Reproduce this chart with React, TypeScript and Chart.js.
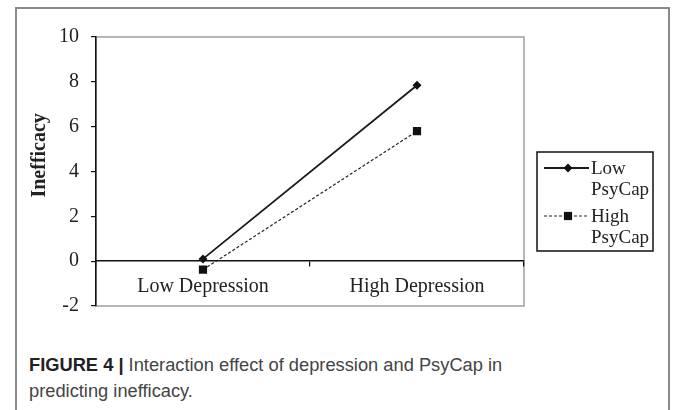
import React, { useEffect, useRef } from "react";
import { Chart, registerables } from "chart.js";
Chart.register(...registerables);

const categories = ["Low Depression", "High Depression"];
const lowPsyCap = [0.1, 7.85];
const highPsyCap = [-0.38, 5.8];
const yMin = -2;
const yMax = 10;
const yStep = 2;
const legendLines = [
  ["Low", "PsyCap"],
  ["High", "PsyCap"],
];
const yTitle = "Inefficacy";

const SERIF = "'Liberation Serif', 'Times New Roman', serif";

const areaFrame = {
  id: "areaFrame",
  beforeDraw(chart: any) {
    const { ctx, chartArea: a } = chart;
    ctx.save();
    ctx.strokeStyle = "#a0a0a0";
    ctx.lineWidth = 1.5;
    ctx.strokeRect(a.left, a.top, a.right - a.left, a.bottom - a.top);
    ctx.restore();
  },
};

const yTitlePlugin = {
  id: "yTitlePlugin",
  afterDraw(chart: any) {
    const { ctx, chartArea: a } = chart;
    ctx.save();
    ctx.translate(40, a.top + (a.bottom - a.top) * 0.44);
    ctx.rotate(-Math.PI / 2);
    ctx.font = `bold 20px ${SERIF}`;
    ctx.fillStyle = "#222";
    ctx.textAlign = "center";
    ctx.textBaseline = "middle";
    ctx.fillText(yTitle, 0, 0);
    ctx.restore();
  },
};

const sideLegend = {
  id: "sideLegend",
  afterDraw(chart: any) {
    const { ctx, chartArea: a } = chart;
    const x0 = a.right + 13;
    const y0 = 152;
    const w = 116;
    const h = 99;
    ctx.save();
    ctx.strokeStyle = "#111";
    ctx.lineWidth = 1.5;
    ctx.strokeRect(x0, y0, w, h);
    ctx.font = `19px ${SERIF}`;
    ctx.textBaseline = "alphabetic";
    ctx.textAlign = "left";
    chart.data.datasets.forEach((ds: any, i: number) => {
      const yy = y0 + 16 + i * 48;
      ctx.beginPath();
      ctx.setLineDash(ds.borderDash || []);
      ctx.lineWidth = ds.borderWidth;
      ctx.strokeStyle = ds.borderColor;
      ctx.moveTo(x0 + 7, yy);
      ctx.lineTo(x0 + 52, yy);
      ctx.stroke();
      ctx.setLineDash([]);
      const mx = x0 + 31;
      ctx.fillStyle = ds.pointBackgroundColor;
      ctx.beginPath();
      if (ds.pointStyle === "rectRot") {
        const r = ds.pointRadius;
        ctx.moveTo(mx, yy - r);
        ctx.lineTo(mx + r, yy);
        ctx.lineTo(mx, yy + r);
        ctx.lineTo(mx - r, yy);
        ctx.closePath();
      } else {
        const s = ds.pointRadius * Math.SQRT1_2;
        ctx.rect(mx - s, yy - s, 2 * s, 2 * s);
      }
      ctx.fill();
      ctx.fillStyle = "#222";
      legendLines[i].forEach((t, j) => {
        ctx.fillText(t, x0 + 54, yy + 6 + j * 21);
      });
    });
    ctx.restore();
  },
};

function ChartBox() {
  const ref = useRef<HTMLCanvasElement | null>(null);
  useEffect(() => {
    if (!ref.current) return;
    const chart = new Chart(ref.current, {
      type: "line",
      data: {
        labels: categories,
        datasets: [
          {
            label: legendLines[0].join(" "),
            data: lowPsyCap,
            borderColor: "#1a1a1a",
            backgroundColor: "#111",
            pointBackgroundColor: "#111",
            pointBorderColor: "#111",
            borderWidth: 1.8,
            pointStyle: "rectRot",
            pointRadius: 4.5,
            pointBorderWidth: 0,
            tension: 0,
          },
          {
            label: legendLines[1].join(" "),
            data: highPsyCap,
            borderColor: "#222",
            backgroundColor: "#111",
            pointBackgroundColor: "#111",
            pointBorderColor: "#111",
            borderWidth: 1.2,
            borderDash: [3, 2],
            pointStyle: "rect",
            pointRadius: 5.8,
            pointBorderWidth: 0,
            tension: 0,
          },
        ] as any,
      },
      options: {
        animation: false,
        responsive: false,
        maintainAspectRatio: false,
        layout: { padding: { left: 0, top: 37, right: 149, bottom: 21 } },
        plugins: {
          legend: { display: false },
          tooltip: { enabled: false },
          title: { display: false },
        },
        scales: {
          x: {
            type: "category",
            position: { y: 0 } as any,
            offset: true,
            afterFit: (s: any) => {
              s.height = 0;
            },
            grid: {
              offset: true,
              drawOnChartArea: false,
              drawTicks: true,
              tickLength: 5,
              color: "#111",
              lineWidth: 1.2,
            },
            border: { display: true, color: "#111", width: 1.5 },
            ticks: {
              color: "#222",
              font: { family: SERIF, size: 20 },
              padding: 9,
              maxRotation: 0,
              autoSkip: false,
            },
          },
          y: {
            type: "linear",
            position: "left",
            min: yMin,
            max: yMax,
            afterFit: (s: any) => {
              s.width = 96;
            },
            grid: {
              drawOnChartArea: false,
              drawTicks: true,
              tickLength: 5,
              color: "#111",
              lineWidth: 1.2,
            },
            border: { display: true, color: "#111", width: 1.5 },
            ticks: {
              stepSize: yStep,
              color: "#222",
              font: { family: SERIF, size: 20 },
              padding: 12,
            },
          },
        },
      },
      plugins: [areaFrame, yTitlePlugin, sideLegend],
    });
    return () => chart.destroy();
  }, []);
  return (
    <canvas
      ref={ref}
      width={673}
      height={330}
      style={{ position: "absolute", left: 0, top: 0, width: 673, height: 330 }}
    />
  );
}

export default function App() {
  return (
    <div
      style={{
        position: "fixed",
        left: 0,
        top: 0,
        width: 673,
        height: 410,
        background: "#fff",
        overflow: "hidden",
      }}
    >
      <div
        style={{
          position: "absolute",
          left: 15,
          top: 7,
          width: 655,
          height: 420,
          border: "2px solid #8a8a8a",
          boxSizing: "border-box",
        }}
      />
      <ChartBox />
      <div
        style={{
          position: "absolute",
          left: 29,
          top: 352,
          width: 600,
          fontFamily: "'Liberation Sans', Arial, sans-serif",
          fontSize: 18.3,
          lineHeight: "26px",
          color: "#444",
          whiteSpace: "nowrap",
        }}
      >
        <b style={{ color: "#222" }}>FIGURE 4 |</b> Interaction effect of depression and PsyCap in
        <br />
        predicting inefficacy.
      </div>
    </div>
  );
}
